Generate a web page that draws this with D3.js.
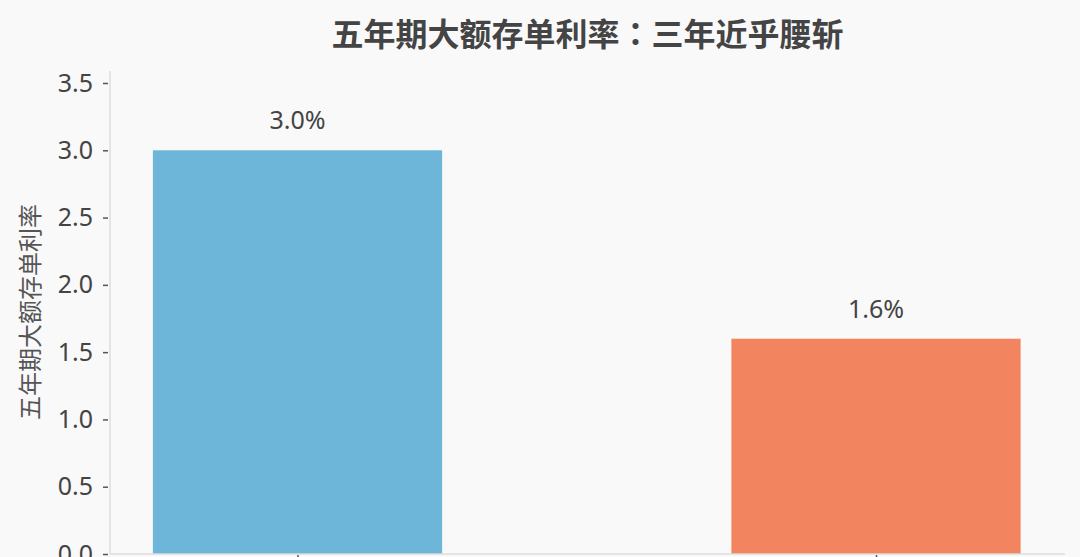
<!DOCTYPE html>
<html>
<head>
<meta charset="utf-8">
<script src="https://cdn.jsdelivr.net/npm/d3@7"></script>
<style>
  html, body { margin: 0; padding: 0; background: #f9f9f9; }
  svg { display: block; }
</style>
</head>
<body>
<svg id="chart" width="1080" height="557"></svg>
<script>
// data
const categories = ["三年前", "现在"];
const rates = [3.0, 1.6];
const barColors = ["#6db5d9", "#f2855f"];
const yTicks = [0, 0.5, 1.0, 1.5, 2.0, 2.5, 3.0, 3.5];
const titleParts = ["五年期大额存单利率", "：", "三年近乎腰斩"];
const yLabel = "五年期大额存单利率";

const width = 1080, height = 557;
const margin = { top: 71, left: 110, right: 15, bottom: 3 };

const svg = d3.select("#chart");

const y = d3.scaleLinear().domain([0, 3.5]).range([554, 83]);
const x = d3.scalePoint().domain(categories).range([297.5, 876]);
const barW = (x(categories[1]) - x(categories[0])) * 0.5;

// bars
svg.selectAll(".bar")
  .data(rates)
  .join("rect")
  .attr("class", "bar")
  .attr("x", (d, i) => x(categories[i]) - barW / 2)
  .attr("y", d => y(d))
  .attr("width", barW)
  .attr("height", d => y(0) - y(d))
  .attr("fill", (d, i) => barColors[i]);

// value labels
svg.selectAll(".val")
  .data(rates)
  .join("text")
  .attr("class", "val")
  .attr("x", (d, i) => x(categories[i]))
  .attr("y", d => y(d) - 21)
  .attr("text-anchor", "middle")
  .attr("font-family", "'Noto Sans', 'Noto Sans CJK SC', sans-serif")
  .attr("font-size", 25)
  .attr("fill", "#444")
  .text(d => d.toFixed(1) + "%");

// y axis
const yAxis = svg.append("g")
  .attr("transform", `translate(${margin.left},0)`)
  .call(d3.axisLeft(y).tickValues(yTicks).tickFormat(d3.format(".1f")).tickSize(6).tickPadding(11));
yAxis.select(".domain").remove();
yAxis.append("line")
  .attr("x1", 0).attr("x2", 0)
  .attr("y1", margin.top).attr("y2", y(0))
  .attr("stroke", "#dcdcdc").attr("stroke-width", 1.5);
yAxis.selectAll(".tick line")
  .attr("x1", -2).attr("x2", -7)
  .attr("stroke", "#555").attr("stroke-width", 1.5);
yAxis.selectAll(".tick text")
  .attr("font-family", "'Noto Sans', sans-serif")
  .attr("font-size", 25)
  .attr("fill", "#444");

// x axis
const xAxis = svg.append("g")
  .attr("transform", `translate(0,${y(0)})`)
  .call(d3.axisBottom(x).tickSize(6).tickFormat(""));
xAxis.select(".domain").remove();
xAxis.append("line")
  .attr("x1", margin.left).attr("x2", 1065)
  .attr("y1", 0).attr("y2", 0)
  .attr("stroke", "#dcdcdc").attr("stroke-width", 1.5);
xAxis.selectAll(".tick line")
  .attr("y1", 1)
  .attr("stroke", "#555").attr("stroke-width", 1.5);

// title (colon set in the TC face so it sits centred like the original)
const titleText = svg.append("text")
  .attr("x", (margin.left + 1065) / 2)
  .attr("y", 46)
  .attr("text-anchor", "middle")
  .attr("font-family", "'Noto Sans CJK SC', sans-serif")
  .attr("font-weight", "bold")
  .attr("font-size", 32)
  .attr("fill", "#444");
titleText.selectAll("tspan")
  .data(titleParts)
  .join("tspan")
  .attr("font-family", (d, i) => i === 1 ? "'Noto Sans CJK TC', sans-serif" : null)
  .text(d => d);

// y label
svg.append("text")
  .attr("transform", `translate(39,312) rotate(-90)`)
  .attr("text-anchor", "middle")
  .attr("font-family", "'Noto Sans CJK SC', sans-serif")
  .attr("font-size", 24)
  .attr("fill", "#555")
  .text(yLabel);
</script>
</body>
</html>
